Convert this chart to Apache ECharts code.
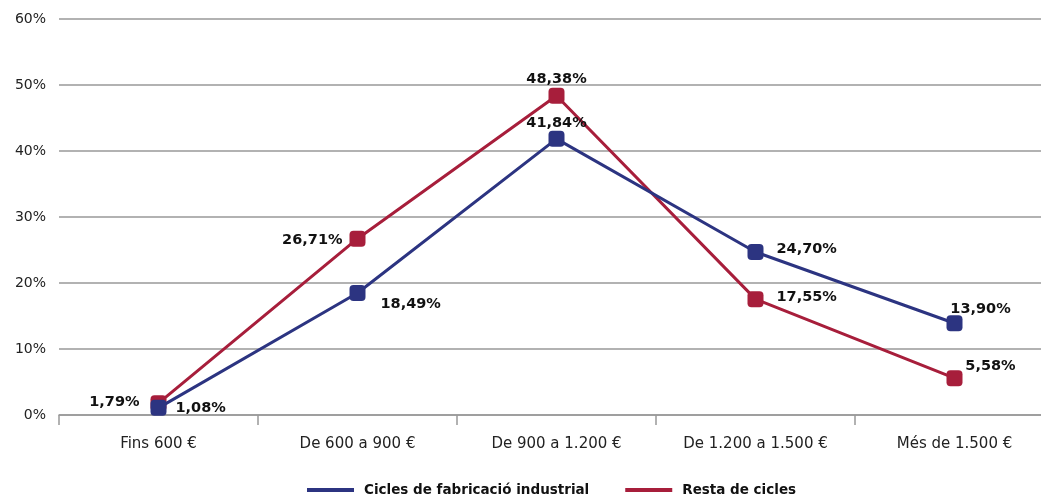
<!DOCTYPE html>
<html><head><meta charset="utf-8">
<script src="https://cdn.jsdelivr.net/npm/echarts@6/dist/echarts.min.js"></script>
<style>html,body{margin:0;padding:0;background:#fff;overflow:hidden}#c{width:1054px;height:502px}</style>
</head><body><div id="c"></div>
<script>
const categories = ['Fins 600 €', 'De 600 a 900 €', 'De 900 a 1.200 €', 'De 1.200 a 1.500 €', 'Més de 1.500 €'];
const industrial = [1.08, 18.49, 41.84, 24.70, 13.90];
const resta = [1.79, 26.71, 48.38, 17.55, 5.58];
const seriesNames = ['Cicles de fabricació industrial', 'Resta de cicles'];
const blue = '#2c3481', red = '#a71e3b';
const font = '"DejaVu Sans", sans-serif';

const blueLabels = [
  {position: 'right', offset: [4, 0]},
  {position: 'right', offset: [10, 11]},
  {position: 'top', offset: [0, 5]},
  {position: 'right', offset: [8, -3]},
  {position: 'top', offset: [26, 6]}
];
const redLabels = [
  {position: 'left', offset: [-6, -1]},
  {position: 'left', offset: [-2, 2]},
  {position: 'top', offset: [0, 4]},
  {position: 'right', offset: [8, -2]},
  {position: 'top', offset: [36, 9]}
];
function fmt(v){ return v.toFixed(2).replace('.', ',') + '%'; }
function build(vals, labs){
  return vals.map((v,i)=>({value: v, label: Object.assign({show:true, formatter: fmt(v)}, labs[i])}));
}
const chart = echarts.init(document.getElementById('c'));
chart.setOption({
  animation: false,
  grid: {left: 59, right: 0, top: 19, bottom: 87},
  legend: {
    bottom: 0, left: 302, itemWidth: 47, itemHeight: 4, itemGap: 36,
    icon: 'rect',
    textStyle: {fontFamily: font, fontWeight: 'bold', fontSize: 13.5, color: '#111', padding: [0, 0, 0, 5]},
    data: seriesNames
  },
  xAxis: {
    type: 'category', data: categories, boundaryGap: true,
    axisLine: {lineStyle: {color: '#999', width: 1.5}},
    axisTick: {show: true, length: 10, lineStyle: {color: '#999', width: 1.5}},
    axisLabel: {fontFamily: font, fontSize: 15, color: '#222', margin: 22}
  },
  yAxis: {
    type: 'value', min: 0, max: 60, interval: 10,
    axisLine: {show: false}, axisTick: {show: false},
    splitLine: {lineStyle: {color: '#999', width: 1.5}},
    axisLabel: {fontFamily: font, fontSize: 14, color: '#222', formatter: '{value}%', margin: 13, align: 'right'}
  },
  series: [
    {
      name: seriesNames[0], type: 'line', data: build(industrial, blueLabels),
      symbol: 'roundRect', symbolSize: 16, z: 3,
      lineStyle: {color: blue, width: 3}, itemStyle: {color: blue},
      label: {fontFamily: font, fontWeight: 'bold', fontSize: 14.5, color: '#111'}
    },
    {
      name: seriesNames[1], type: 'line', data: build(resta, redLabels),
      symbol: 'roundRect', symbolSize: 16, z: 2,
      lineStyle: {color: red, width: 3}, itemStyle: {color: red},
      label: {fontFamily: font, fontWeight: 'bold', fontSize: 14.5, color: '#111'}
    }
  ]
});
</script></body></html>
